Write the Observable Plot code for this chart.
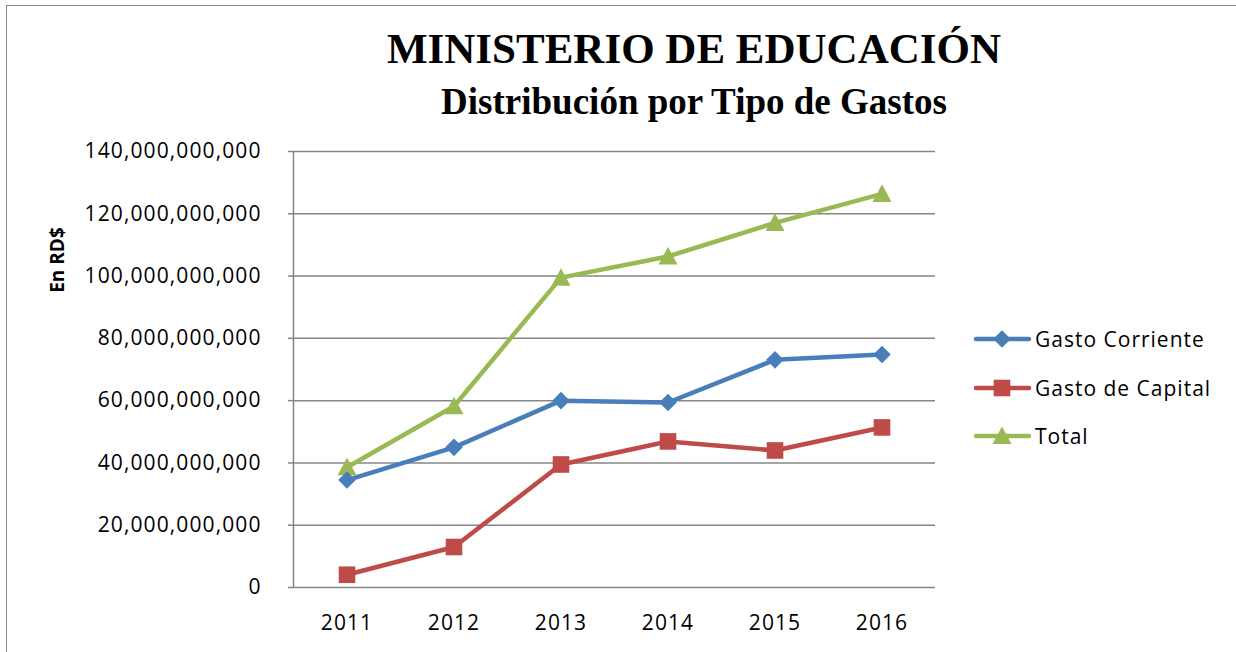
<!DOCTYPE html>
<html>
<head>
<meta charset="utf-8">
<script src="https://cdn.jsdelivr.net/npm/d3@7"></script>
<script src="https://cdn.jsdelivr.net/npm/@observablehq/plot@0.6"></script>
<style>
  html, body { margin: 0; padding: 0; background: #fff; overflow: hidden; }
  #wrap { position: relative; width: 1236px; height: 652px; overflow: hidden; }
  #border { position: absolute; left: 6px; top: 5px; width: 1400px; height: 800px; border: 1.5px solid #8c8c8c; box-sizing: border-box; }
  .title { position: absolute; left: 694px; transform: translateX(-50%); white-space: nowrap; font-family: "Liberation Serif", "Times New Roman", serif; font-weight: bold; color: #000; line-height: 1; }
  #t1 { font-size: 43px; top: 27px; }
  #t2 { font-size: 37px; top: 83px; }
  #ylab { position: absolute; left: 57px; top: 260px; transform: translate(-50%, -50%) rotate(-90deg); font-family: "Open Sans", sans-serif; font-weight: bold; font-size: 19px; white-space: nowrap; color: #000; }
  .leg { position: absolute; left: 972px; height: 24px; display: flex; align-items: center; font-family: "Open Sans", sans-serif; font-size: 21px; letter-spacing: 1px; color: #000; white-space: nowrap; }
  .leg svg { margin-right: 3px; }
  #chart { position: absolute; left: 0; top: 0; }
  #chart text { letter-spacing: 1.1px; }
</style>
</head>
<body>
<div id="wrap">
  <div id="border"></div>
  <div id="chart"></div>
  <div class="title" id="t1">MINISTERIO DE EDUCACIÓN</div>
  <div class="title" id="t2">Distribución por Tipo de Gastos</div>
  <div id="ylab">En RD$</div>
  <div id="legend"></div>
</div>
<script>
const years = [2011, 2012, 2013, 2014, 2015, 2016];
const gastoCorriente = [34.5e9, 45.0e9, 60.0e9, 59.4e9, 73.1e9, 74.8e9];
const gastoCapital = [4.1e9, 13.0e9, 39.5e9, 46.9e9, 44.0e9, 51.4e9];
const gastoTotal = [38.6e9, 58.2e9, 99.5e9, 106.3e9, 117.1e9, 126.4e9];
const seriesNames = ["Gasto Corriente", "Gasto de Capital", "Total"];
const seriesColors = ["#4a7ebb", "#be4b48", "#98b954"];
const yTicks = [0, 20e9, 40e9, 60e9, 80e9, 100e9, 120e9, 140e9];

// Custom Excel-like marker symbols (size = pi*r^2)
const rOf = size => Math.sqrt(size / Math.PI);
const diamond = { draw(ctx, size) { const r = rOf(size); ctx.moveTo(0, -r); ctx.lineTo(r, 0); ctx.lineTo(0, r); ctx.lineTo(-r, 0); ctx.closePath(); } };
const square = { draw(ctx, size) { const r = rOf(size); ctx.moveTo(-r, -r); ctx.lineTo(r, -r); ctx.lineTo(r, r); ctx.lineTo(-r, r); ctx.closePath(); } };
const triangle = { draw(ctx, size) { const r = rOf(size); ctx.moveTo(0, -r); ctx.lineTo(r, r * 0.85); ctx.lineTo(-r, r * 0.85); ctx.closePath(); } };
const symbols = [diamond, square, triangle];
const radii = [8.8, 8.3, 9.5];

const seriesValues = [gastoCorriente, gastoCapital, gastoTotal];
const tables = seriesValues.map((vals, i) => years.map((yr, j) => ({ year: yr, value: vals[j], series: seriesNames[i] })));

const fmt = d3.format(",");
const drawOrder = [2, 1, 0];
const seriesMarks = drawOrder.flatMap(i => [
  Plot.line(tables[i], { x: "year", y: "value", stroke: seriesColors[i], strokeWidth: 4.5, strokeLinejoin: "round", strokeLinecap: "round" }),
  Plot.dot(tables[i], { x: "year", y: "value", fill: seriesColors[i], stroke: "none", symbol: symbols[i], r: radii[i] })
]);

const chart = Plot.plot({
  width: 1236,
  height: 652,
  marginLeft: 293,
  marginRight: 301,
  marginTop: 151,
  marginBottom: 65,
  style: { fontFamily: "Open Sans, sans-serif", fontSize: "21px", color: "#000", background: "transparent", overflow: "visible" },
  x: { type: "linear", domain: [2010.5, 2016.5], axis: null },
  y: { domain: [0, 140e9], axis: null },
  marks: [
    Plot.gridY(yTicks, { stroke: "#868686", strokeOpacity: 1, strokeWidth: 1.5 }),
    Plot.ruleX([2010.5], { stroke: "#868686", strokeWidth: 1.5 }),
    Plot.axisY(yTicks, { tickSize: 5, tickPadding: 27, tickFormat: fmt, stroke: "#868686", strokeWidth: 1.5, fill: "#000", label: null }),
    Plot.axisX(years, { tickSize: 0, tickPadding: 28, tickFormat: d => String(d), fill: "#000", label: null }),
    ...seriesMarks
  ]
});
document.getElementById("chart").appendChild(chart);

// Legend
const legendY = [339, 388, 436];
const legend = document.getElementById("legend");
seriesNames.forEach((name, i) => {
  const row = document.createElement("div");
  row.className = "leg";
  row.style.top = (legendY[i] - 12) + "px";
  const svg = d3.create("svg").attr("width", 60).attr("height", 24);
  svg.append("line").attr("x1", 4).attr("x2", 57).attr("y1", 12).attr("y2", 12)
    .attr("stroke", seriesColors[i]).attr("stroke-width", 4.5).attr("stroke-linecap", "round");
  svg.append("path").attr("transform", "translate(30,12)")
    .attr("d", d3.symbol(symbols[i], Math.PI * radii[i] * radii[i])())
    .attr("fill", seriesColors[i]);
  row.appendChild(svg.node());
  const span = document.createElement("span");
  span.textContent = name;
  row.appendChild(span);
  legend.appendChild(row);
});
</script>
</body>
</html>
